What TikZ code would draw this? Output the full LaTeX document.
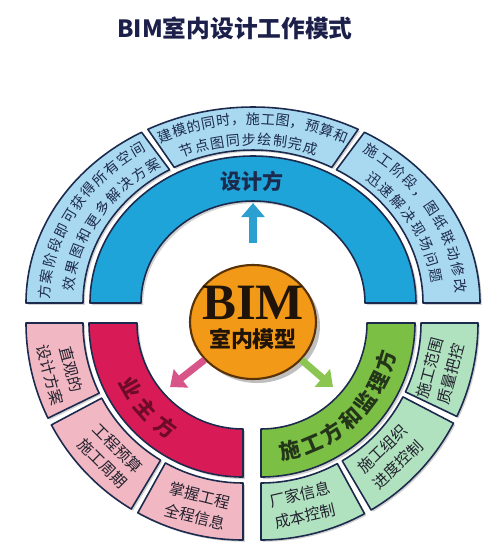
\documentclass[tikz,border=0pt]{standalone}
\usepackage{fontspec}
\setmainfont{Liberation Serif}
\newfontfamily\cjk{Noto Sans CJK SC}
\usepackage{tikz}
\usetikzlibrary{positioning,calc,shapes.geometric,arrows.meta,decorations.text,shadows}

\definecolor{titlenavy}{HTML}{1B1F4A}
\definecolor{navy}{HTML}{1C2A4D}
\definecolor{ink}{HTML}{22222E}
\definecolor{designblue}{HTML}{1FA4DA}
\definecolor{designlight}{HTML}{A9D8F1}
\definecolor{designarrow}{HTML}{2A9FD0}
\definecolor{ownerred}{HTML}{D81B57}
\definecolor{ownerlight}{HTML}{F1B7C2}
\definecolor{ownerdark}{HTML}{6E0B27}
\definecolor{ownerarrow}{HTML}{D8558A}
\definecolor{buildgreen}{HTML}{7CBF45}
\definecolor{buildlight}{HTML}{B1E2C0}
\definecolor{builddark}{HTML}{24361A}
\definecolor{buildarrow}{HTML}{8CC652}
\definecolor{bimorange}{HTML}{F29A17}
\definecolor{bimedge}{HTML}{5A3208}
\definecolor{bimtext}{HTML}{20140A}

\newcommand{\arcfont}{\cjk\fontsize{8}{10}\selectfont}
\newcommand{\bandfont}{\cjk\bfseries\fontsize{12}{12}\selectfont}
\newcommand{\segfont}{\cjk\fontsize{8.8}{12.5}\selectfont}

% ring piece: style, centre, from, to, inner x/y radius, outer x/y radius
\newcommand{\ringseg}[8]{%
  \path[#1] ($(#2)+(#3:#7 and #8)$) arc[start angle=#3, end angle=#4, x radius=#7, y radius=#8]
    -- ($(#2)+(#4:#5 and #6)$) arc[start angle=#4, end angle=#3, x radius=#5, y radius=#6] -- cycle;}

\begin{document}
\begin{tikzpicture}[x=0.02cm, y=0.02cm,
    seg/.style={fill=#1, draw=navy, line width=0.9pt, line join=round,
      drop shadow={shadow xshift=1pt, shadow yshift=-1pt, opacity=.35}},
    band/.style={fill=#1, draw=navy, line width=0.9pt, line join=round,
      drop shadow={shadow xshift=1.2pt, shadow yshift=-1.2pt, opacity=.35}},
    segtext/.style={font=\segfont, text=ink, align=center, inner sep=0pt},
    arcline/.style={decorate, decoration={text along path, text align={fit to path},
      text color=navy, text={|\arcfont|#1}}},
    bandline/.style 2 args={decorate, decoration={text along path, text align={fit to path},
      text color=#1, text={|\bandfont|#2}}},
    fatarrow/.style={draw=#1, line width=4pt, -{Triangle[width=13pt, length=8pt]}}]

  \useasboundingbox (0,0) rectangle (500,-552);
  \fill[white] (0,0) rectangle (500,-552);

  \node[font=\cjk\bfseries\fontsize{13.5}{13.5}\selectfont, text=titlenavy] (title) at (235,-28) {BIM室内设计工作模式};

  % centres of the three parts
  \coordinate (ctop) at (253,-303);
  \coordinate (cleft) at (243,-323);
  \coordinate (cright) at (261,-323);

  % designer (top half)
  \ringseg{seg=designlight}{ctop}{0}{60.6}{170}{153}{227}{196}
  \ringseg{seg=designlight}{ctop}{62.4}{117.6}{170}{153}{227}{196}
  \ringseg{seg=designlight}{ctop}{119.4}{180}{170}{153}{227}{196}
  \ringseg{band=designblue}{ctop}{0}{180}{112}{102}{163}{147}
  \node[font=\bandfont, text=navy] (designer) at (252,-181) {设计方};

  \path[arcline={方案阶段即可获得所有空间}] ($(ctop)+(179:203 and 179)$)
    arc[start angle=179, end angle=121.6, x radius=203, y radius=179];
  \path[arcline={效果图和更多解决方案}] ($(ctop)+(175.8:180 and 158)$)
    arc[start angle=175.8, end angle=120.3, x radius=180, y radius=158];
  \path[arcline={建模的同时，施工图，预算和}] ($(ctop)+(117:203 and 179)$)
    arc[start angle=117, end angle=63, x radius=203, y radius=179];
  \path[arcline={节点图同步绘制完成}] ($(ctop)+(113.3:180 and 158)$)
    arc[start angle=113.3, end angle=69.4, x radius=180, y radius=158];
  \path[arcline={施工阶段，图纸联动修改}] ($(ctop)+(57.5:203 and 179)$)
    arc[start angle=57.5, end angle=3, x radius=203, y radius=179];
  \path[arcline={迅速解决现场问题}] ($(ctop)+(51.5:180 and 158)$)
    arc[start angle=51.5, end angle=7, x radius=180, y radius=158];

  % owner (lower left)
  \ringseg{seg=ownerlight}{cleft}{180}{206}{160}{160}{217}{217}
  \ringseg{seg=ownerlight}{cleft}{208}{239}{160}{160}{217}{217}
  \ringseg{seg=ownerlight}{cleft}{241}{270}{160}{160}{217}{217}
  \ringseg{band=ownerred}{cleft}{180}{270}{106}{106}{154}{154}
  \path[bandline={ownerdark}{业主方}] ($(cleft)+(205.5:138)$)
    arc[start angle=205.5, end angle=237.8, radius=138];
  \node[segtext, rotate=-75] (intuitive) at ($(cleft)+(195:189)$) {直观的\\设计方案};
  \node[segtext, rotate=-45] (budget) at ($(cleft)+(225:188)$) {工程预算\\施工周期};
  \node[segtext, rotate=-14] (fullinfo) at ($(cleft)+(256:189)$) {掌握工程\\全程信息};

  % builder and supervisor (lower right)
  \ringseg{seg=buildlight}{cright}{270}{298.5}{160}{160}{217}{217}
  \ringseg{seg=buildlight}{cright}{300.5}{332.5}{160}{160}{217}{217}
  \ringseg{seg=buildlight}{cright}{334.5}{360}{160}{160}{217}{217}
  \ringseg{band=buildgreen}{cright}{270}{360}{106}{106}{154}{154}
  \path[bandline={builddark}{施工方和监理方}] ($(cright)+(278.6:139)$)
    arc[start angle=278.6, end angle=347.4, radius=139];
  \node[segtext, rotate=13] (vendor) at ($(cright)+(-77:187)$) {厂家信息\\成本控制};
  \node[segtext, rotate=44] (schedule) at ($(cright)+(-46:186)$) {施工组织\\进度控制};
  \node[segtext, rotate=75] (quality) at ($(cright)+(-15:186)$) {施工范围\\质量把控};

  % BIM model in the middle
  \node[ellipse, fill=bimorange, draw=bimedge, line width=1.2pt, minimum width=2.52cm,
    minimum height=2.28cm, inner sep=0pt, drop shadow] (bim) at (253,-322) {};
  \node[font=\bfseries\fontsize{29}{29}\selectfont, text=bimtext, inner sep=0pt] (bimword) at (253,-303) {BIM};
  \node[font=\cjk\bfseries\fontsize{12.5}{12.5}\selectfont, text=bimtext, inner sep=0pt,
    below=0.16cm of bimword] (bimmodel) {室内模型};

  % arrows out of the model
  \coordinate (design tail) at (253,-243);
  \coordinate (design tip) at (253,-203);
  \coordinate (owner tip) at (170,-387);
  \coordinate (build tip) at (333,-387);
  \draw[fatarrow=designarrow] (design tail) -- (design tip);
  \draw[fatarrow=ownerarrow] (bim.218) -- (owner tip);
  \draw[fatarrow=buildarrow] (bim.-38) -- (build tip);
\end{tikzpicture}
\end{document}
